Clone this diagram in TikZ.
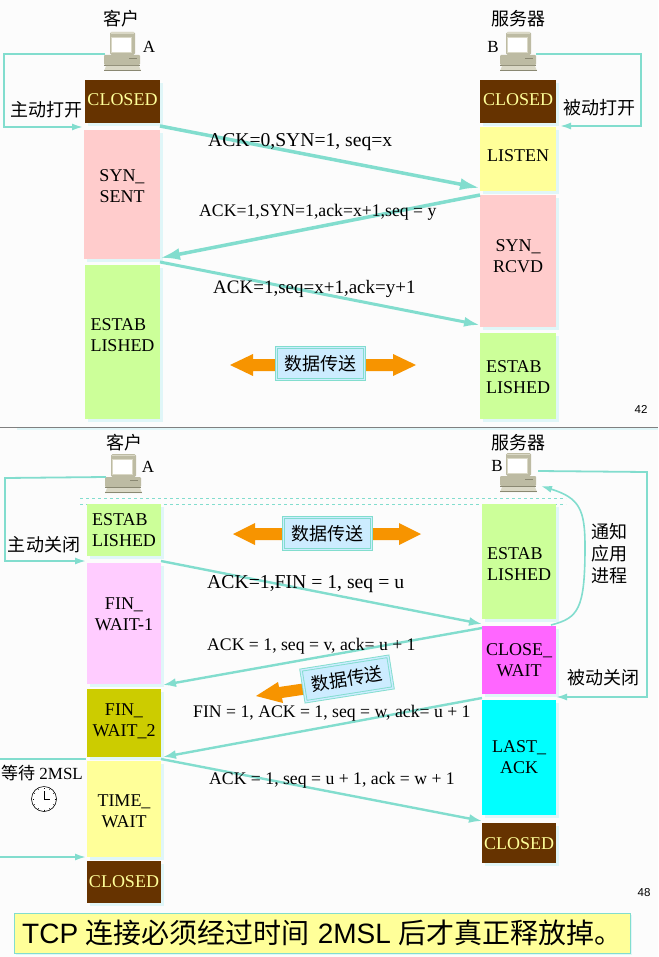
\documentclass[tikz,border=0pt]{standalone}
\usepackage{fontspec}
\setmainfont{Liberation Serif}
\newfontfamily\cjk{Noto Sans CJK SC}
\newfontfamily\arialf{Liberation Sans}
\usetikzlibrary{arrows.meta,shadows}
\definecolor{teal1}{HTML}{82DDCE}
\definecolor{shad}{HTML}{E0F6F8}
\definecolor{brownc}{HTML}{663300}
\definecolor{closedtxt}{HTML}{FFFF99}
\definecolor{pinkc}{HTML}{FFCCCC}
\definecolor{yelc}{HTML}{FFFF99}
\definecolor{greenc}{HTML}{CCFF99}
\definecolor{lilac}{HTML}{FFCCFF}
\definecolor{olive}{HTML}{CCCC00}
\definecolor{magc}{HTML}{FF66FF}
\definecolor{cyanc}{HTML}{00FFFF}
\definecolor{orangec}{HTML}{F79400}
\definecolor{skyc}{HTML}{CCECFF}
\definecolor{pcbody}{HTML}{BDBBA3}
\definecolor{pclight}{HTML}{DAD8C6}
\definecolor{pcdark}{HTML}{8A8872}
\tikzset{
  statebox/.style={inner sep=0pt,outer sep=0pt,
    general shadow={fill=shad,shadow xshift=3pt,shadow yshift=-3pt}},
  boxtext/.style={inner sep=0pt,align=center,font=\fontsize{18}{21}\selectfont},
  lbl/.style={inner sep=0pt,font=\fontsize{17}{21}\selectfont,align=center},
  cjklbl/.style={inner sep=0pt,font=\cjk\fontsize{18}{22}\selectfont,align=center},
  msg/.style={teal1,line width=2.4pt,-{Latex[length=13pt,width=9pt]}},
  bigmsg/.style={teal1,line width=3.5pt,-{Latex[length=20pt,width=12pt]}},
  loopl/.style={teal1,line width=1.8pt,-{Latex[length=11pt,width=7pt]}},
  dbox/.style={draw=teal1,double=skyc,double distance=1.4pt,line width=.9pt,fill=skyc,inner sep=0pt,
    font=\cjk\fontsize{18}{22}\selectfont,minimum width=88pt,minimum height=32pt},
  oarrow/.style={fill=orangec,draw=none},
  pagenum/.style={inner sep=0pt,font=\arialf\fontsize{11.5}{13}\selectfont},
  msgtext/.style={inner sep=0pt,anchor=base west,font=\fontsize{#1}{21}\selectfont},
}
\newcommand{\stbox}[8][]{%
  \pgfmathsetlengthmacro{\bw}{(#5-#3)*1pt}%
  \pgfmathsetlengthmacro{\bh}{(#6-#4)*1pt}%
  \node[statebox,fill=#7,minimum width=\bw,minimum height=\bh] (#2) at ({(#3+#5)/2},{(#4+#6)/2}) {};
  \node[boxtext,#1] (#2t) at (#2.center) {#8};}
\newcommand{\pcicon}[2]{%
  \begin{scope}[shift={(#1,#2)}]
    \fill[pcbody,rounded corners=1.5pt] (6,0) -- (31,0) -- (31,23) -- (6,23) -- cycle;
    \fill[pclight] (6.5,0.5) -- (30,0.5) -- (30,2) -- (6.5,2) -- cycle;
    \fill[white] (7,5) rectangle (27,20);
    \draw[pclight,line width=.7pt] (7,5) rectangle (27,20);
    \fill[pcbody,rounded corners=1pt] (0,23) -- (36,23) -- (36,33) -- (0,33) -- cycle;
    \fill[pcdark] (25,26) rectangle (33,27);
    \fill[pcdark] (0,33) rectangle (36,34);
    \fill[pclight] (2,34) -- (35,34) -- (37,39) -- (0,39) -- cycle;
    \fill[pcdark] (0,38) rectangle (37,39);
  \end{scope}}
\begin{document}
\begin{tikzpicture}[x=1pt,y=-1pt]
\useasboundingbox (0,0) rectangle (658,957);
\fill[black!1] (0,0) rectangle (658,957);
% separator
\fill[shad] (17,427) rectangle (658,430);
\draw[gray,line width=.9pt] (0,427) -- (658,427);

% ---------- top slide ----------
\node[cjklbl] (c1) at (121,19) {客户};
\node[cjklbl] (s1) at (518,19) {服务器};
\pcicon{104}{32}
\pcicon{500}{32}
\coordinate (pca1) at (105,54);
\coordinate (pcb1) at (536,54);
\node[lbl] (a1) at (149,47) {A};
\node[lbl] (b1) at (493,47) {B};

\stbox[yshift=2pt]{tl1}{85}{80}{160}{123}{brownc}{\textcolor{closedtxt}{CLOSED}}
\stbox[yshift=8pt]{tl2}{84}{130}{160}{259}{pinkc}{SYN\_\\SENT}
\stbox[yshift=6.5pt,align=left]{tl3}{85}{265}{160}{419}{greenc}{ESTAB\\LISHED}
\stbox[yshift=2pt]{tr1}{480}{80}{556}{123}{brownc}{\textcolor{closedtxt}{CLOSED}}
\stbox[yshift=3pt]{tr2}{480}{127}{556}{191}{yelc}{LISTEN}
\stbox[yshift=5pt]{tr3}{480}{195}{556}{327}{pinkc}{SYN\_\\RCVD}
\stbox[yshift=-1pt,align=left]{tr4}{480}{333}{556}{419}{greenc}{ESTAB\\LISHED}

\coordinate (lp1) at (4,54);
\coordinate (lp2) at (4,127);
\coordinate (lp3) at (83,127);
\draw[loopl] (pca1) -- (lp1) -- (lp2) -- (lp3);
\coordinate (rp1) at (641,54);
\coordinate (rp2) at (641,126);
\coordinate (rp3) at (560,126);
\draw[loopl] (pcb1) -- (rp1) -- (rp2) -- (rp3);
\node[cjklbl] (t1) at (46,110) {主动打开};
\node[cjklbl] (t2) at (599,108) {被动打开};

\coordinate (m1a) at (160,126);
\coordinate (m1b) at (480,188);
\coordinate (m2a) at (480,195);
\coordinate (m2b) at (160,258);
\coordinate (m3a) at (160,262);
\coordinate (m3b) at (480,325);
\draw[bigmsg] (m1a) -- (m1b);
\draw[bigmsg] (m2a) -- (m2b);
\draw[msg,line width=3pt,-{Latex[length=16pt,width=10pt]}] (m3a) -- (m3b);
\node[msgtext=19.6] (l1) at (208,147) {ACK=0,SYN=1, seq=x};
\node[msgtext=17.7] (l2) at (199,217) {ACK=1,SYN=1,ack=x+1,seq = y};
\node[msgtext=19] (l3) at (213,293) {ACK=1,seq=x+1,ack=y+1};

\fill[oarrow] (230,365) -- (253,354) -- (253,359) -- (393,359) -- (393,354) -- (416,365) -- (393,376) -- (393,371) -- (253,371) -- (253,376) -- cycle;
\node[dbox] (d1) at (320.5,363.5) {数据传送};
\node[pagenum] (p42) at (641,409) {42};

% ---------- bottom slide ----------
\node[cjklbl] (c2) at (124,443) {客户};
\node[cjklbl] (s2) at (518,443) {服务器};
\pcicon{105}{454}
\pcicon{500}{453}
\coordinate (pca2) at (106,477);
\coordinate (pcb2) at (538,471);
\coordinate (pcb2n) at (541,486);
\node[lbl] (a2) at (148,467) {A};
\node[lbl] (b2) at (497,466) {B};

\draw[teal1,dashed,line width=.6pt] (80,498) -- (566,498);
\draw[teal1,dashed,line width=.6pt] (80,504.5) -- (566,504.5);

\stbox[align=left]{bl1}{87}{504}{161}{556}{greenc}{ESTAB\\LISHED}
\stbox[yshift=9pt]{bl2}{87}{563}{161}{684}{lilac}{FIN\_\\WAIT-1}
\stbox[yshift=2pt]{bl3}{87}{689}{161}{757}{olive}{FIN\_\\WAIT\_2}
\stbox[yshift=-2pt]{bl4}{87}{761}{161}{857}{yelc}{TIME\_\\WAIT}
\stbox{bl5}{87}{861}{161}{903}{brownc}{\textcolor{closedtxt}{CLOSED}}
\stbox[yshift=-3pt,align=left]{br1}{482}{504}{556}{619}{greenc}{ESTAB\\LISHED}
\stbox{br2}{482}{626}{556}{694}{magc}{CLOSE\_\\WAIT}
\stbox{br3}{482}{700}{556}{815}{cyanc}{LAST\_\\ACK}
\stbox[yshift=-1pt]{br4}{482}{823}{556}{863}{brownc}{\textcolor{closedtxt}{CLOSED}}

\coordinate (lq1) at (5,478);
\coordinate (lq2) at (5,561);
\coordinate (lq3) at (86,561);
\draw[loopl] (pca2) -- (lq1) -- (lq2) -- (lq3);
\coordinate (rq1) at (647,472);
\coordinate (rq2) at (647,697);
\coordinate (rq3) at (556,697);
\draw[loopl] (pcb2) -- (rq1) -- (rq2) -- (rq3);
\coordinate (cv) at (551,625);
\draw[loopl,line width=1.6pt] (cv) .. controls (578,618) and (585,610) .. (585,547) .. controls (585,510) and (580,498) .. (pcb2n);
\node[cjklbl] (t3) at (44,545) {主动关闭};
\node[cjklbl] (t4) at (603,678) {被动关闭};
\node[cjklbl] (t5) at (609,554) {通知\\应用\\进程};

\coordinate (n1a) at (161,561);
\coordinate (n1b) at (482,624);
\coordinate (n2a) at (482,628);
\coordinate (n2b) at (163,685);
\coordinate (n3a) at (482,698);
\coordinate (n3b) at (163,757);
\coordinate (n4a) at (161,759);
\coordinate (n4b) at (482,821);
\draw[msg] (n1a) -- (n1b);
\draw[msg] (n2a) -- (n2b);
\draw[msg] (n3a) -- (n3b);
\draw[msg] (n4a) -- (n4b);
\node[msgtext=19.7] (l4) at (207,588) {ACK=1,FIN = 1, seq = u};
\node[msgtext=17.7] (l5) at (207,650) {ACK = 1, seq = v, ack= u + 1};
\node[msgtext=17.7] (l6) at (193,717) {FIN = 1, ACK = 1, seq = w, ack= u + 1};
\node[msgtext=17.7] (l7) at (209,784) {ACK = 1, seq = u + 1, ack = w + 1};

\fill[oarrow] (233,534) -- (255,523) -- (255,528) -- (399,528) -- (399,523) -- (421,534) -- (399,545) -- (399,540) -- (255,540) -- (255,545) -- cycle;
\node[dbox] (d2) at (327.5,533.5) {数据传送};
\fill[oarrow] (256,696) -- (278,682) -- (279,687) -- (320,681) -- (322,692) -- (282,698) -- (283,703) -- cycle;
\node[dbox,rotate=9] (d3) at (347,679) {数据传送};
\node[pagenum] (p48) at (644,893) {48};

\coordinate (w1) at (0,759);
\coordinate (w2) at (86,759);
\coordinate (w3) at (0,857);
\coordinate (w4) at (86,857);
\draw[teal1,line width=1.8pt] (w1) -- (w2);
\draw[loopl] (w3) -- (w4);
\node[lbl] (t6) at (42,773) {{\cjk 等待} 2MSL};
% clock
\node[circle,draw=black,fill=white,line width=.6pt,minimum size=25pt,inner sep=0pt] (clk) at (44,799) {};
\foreach \a in {0,30,...,330} \draw[line width=.4pt] (clk.center) ++(\a:10.5) -- ++(\a:1);
\draw[line width=.7pt] (clk.center) -- ++(0,-8);
\draw[line width=.7pt] (clk.center) -- ++(6,0);

\node[draw=teal1,line width=1pt,fill=yelc,minimum width=616pt,minimum height=40pt,inner sep=0pt,
  general shadow={fill=shad,shadow xshift=2pt,shadow yshift=-2pt}] (note) at (322,933) {};
\node[anchor=west,inner sep=0pt,font=\arialf\fontsize{28}{32}\selectfont] (notet) at (22,933) {TCP {\cjk 连接必须经过时间} 2MSL {\cjk 后才真正释放掉。}};
\end{tikzpicture}
\end{document}
